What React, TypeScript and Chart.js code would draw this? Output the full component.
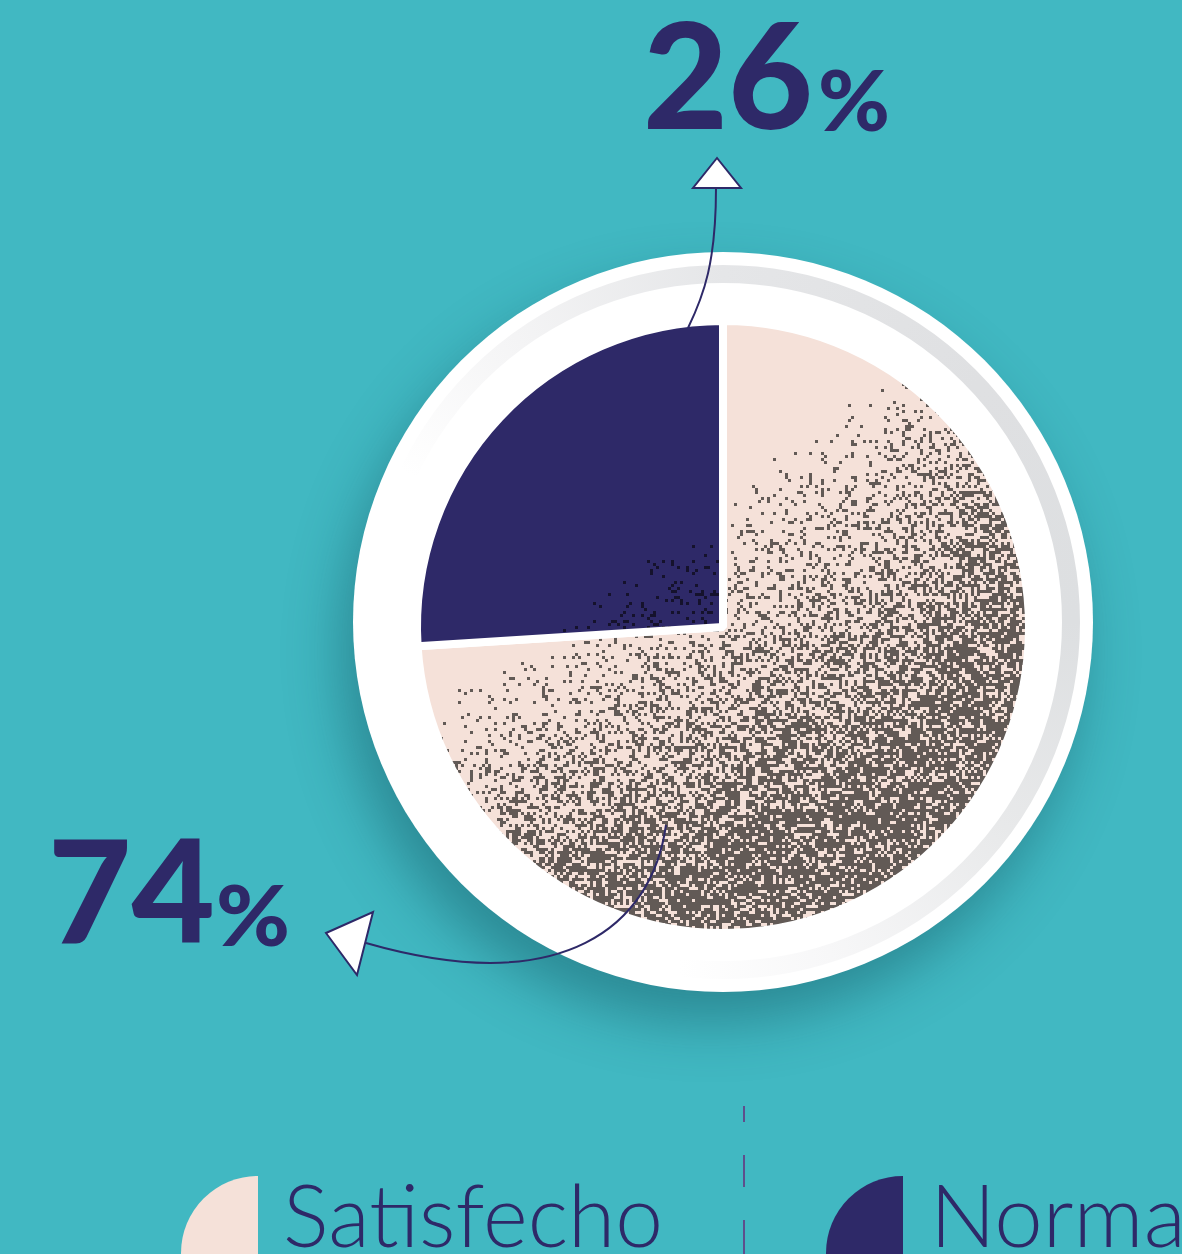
import React, { useEffect, useRef } from "react";
import { Chart, registerables } from "chart.js";

Chart.register(...registerables);

// ---- data ----
const categories: string[] = ["Satisfecho", "Normal"];
const values: number[] = [74, 26];
const sliceColors: string[] = ["#f5e1d9", "#2e2968"];
const grainColors: string[] = ["#625a56", "#15122c"];

const TEAL = "#41b8c2";
const NAVY = "#2e2968";
const W = 1182;
const H = 1254;

function hash(i: number, j: number) {
  const s = Math.sin(i * 127.1 + j * 311.7) * 43758.5453;
  return s - Math.floor(s);
}

const patternCache: Record<string, CanvasPattern | string> = {};

function grainPattern(chart: any, index: number) {
  const area = chart.chartArea;
  if (!area) return sliceColors[index];
  const key = index + ":" + area.left + ":" + area.top + ":" + area.width;
  if (patternCache[key]) return patternCache[key];
  const cx = (area.left + area.right) / 2;
  const cy = (area.top + area.bottom) / 2;
  const R = Math.min(area.width, area.height) / 2;
  const c = document.createElement("canvas");
  c.width = chart.width;
  c.height = chart.height;
  const g = c.getContext("2d")!;
  g.fillStyle = sliceColors[index];
  g.fillRect(0, 0, c.width, c.height);
  g.fillStyle = grainColors[index];
  const cell = 3;
  for (let y = Math.floor(cy - R); y < cy + R; y += cell) {
    for (let x = Math.floor(cx - R); x < cx + R; x += cell) {
      const dx = x - cx, dy = y - cy;
      const p = (0.6 * dx + 0.8 * dy) / R;
      const r = Math.sqrt(dx * dx + dy * dy) / R;
      const rim = 0.3 * Math.max(0, r - 0.55) * Math.min(1, Math.max(0, (p + 0.25) / 0.4));
      const d = Math.min(0.72, Math.max(0, 0.68 * (p + 0.36) + rim));
      if (hash(x, y) < d) g.fillRect(x, y, cell, cell);
    }
  }
  const pat = chart.ctx.createPattern(c, "no-repeat");
  patternCache[key] = pat || sliceColors[index];
  return patternCache[key];
}

const platePlugin = {
  id: "plate",
  beforeDraw(chart: any) {
    const ctx = chart.ctx as CanvasRenderingContext2D;
    const px = 723, py = 622;
    ctx.save();
    ctx.fillStyle = TEAL;
    ctx.fillRect(0, 0, chart.width, chart.height);
    ctx.shadowColor = "rgba(15,75,85,0.42)";
    ctx.shadowBlur = 55;
    ctx.shadowOffsetY = 30;
    ctx.shadowOffsetX = -12;
    ctx.beginPath();
    ctx.arc(px, py, 370, 0, Math.PI * 2);
    ctx.fillStyle = "#ffffff";
    ctx.fill();
    ctx.restore();

    ctx.save();
    const grad = (ctx as any).createConicGradient(0, px, py);
    grad.addColorStop(0, "#dddfe1");
    grad.addColorStop(0.1, "#e8e9ea");
    grad.addColorStop(0.2, "#f7f7f8");
    grad.addColorStop(0.27, "#ffffff");
    grad.addColorStop(0.57, "#ffffff");
    grad.addColorStop(0.65, "#f4f4f5");
    grad.addColorStop(0.75, "#e5e6e8");
    grad.addColorStop(0.88, "#dfe0e2");
    grad.addColorStop(1, "#dddfe1");
    ctx.strokeStyle = grad;
    ctx.lineWidth = 18;
    ctx.beginPath();
    ctx.arc(px, py, 348, 0, Math.PI * 2);
    ctx.stroke();
    ctx.restore();
  },
};

export default function App() {
  const ref = useRef<HTMLCanvasElement>(null);

  useEffect(() => {
    document.body.style.margin = "0";
    const canvas = ref.current!;
    const chart = new Chart(canvas, {
      type: "pie",
      data: {
        labels: categories,
        datasets: [
          {
            data: values,
            backgroundColor: (c: any) =>
              c.dataIndex === undefined ? sliceColors[0] : grainPattern(c.chart, c.dataIndex),
            borderColor: "#ffffff",
            borderWidth: 8,
          },
        ],
      },
      options: {
        animation: false,
        responsive: false,
        events: [],
        layout: { padding: { left: 413, top: 317, right: 149, bottom: 317 } },
        plugins: {
          legend: { display: false },
          tooltip: { enabled: false },
        },
      },
      plugins: [platePlugin],
    } as any);
    return () => chart.destroy();
  }, []);

  const big = "Lato, 'DejaVu Sans', sans-serif";

  return (
    <div
      style={{
        position: "absolute",
        left: 0,
        top: 0,
        width: W,
        height: H,
        overflow: "hidden",
        background: TEAL,
      }}
    >
      <canvas
        ref={ref}
        width={W}
        height={H}
        style={{ position: "absolute", left: 0, top: 0, width: W, height: H }}
      />
      <svg
        width={W}
        height={H}
        viewBox={`0 0 ${W} ${H}`}
        style={{ position: "absolute", left: 0, top: 0 }}
      >
        {/* arrows */}
        <path d="M688,328 C704,295 716,262 716,188" fill="none" stroke={NAVY} strokeWidth={2} />
        <polygon points="717,158 693,188 741,188" fill="#ffffff" stroke={NAVY} strokeWidth={2} />
        <path d="M666,825 C652,925 565,1000 366,943" fill="none" stroke={NAVY} strokeWidth={2} />
        <polygon points="326,933 373,912 357,975" fill="#ffffff" stroke={NAVY} strokeWidth={2} />

        {/* value labels */}
        <text x={643} y={129} fill={NAVY} fontFamily={big} fontWeight={900} fontSize={147} textLength={170} lengthAdjust="spacingAndGlyphs">
          {String(values[1])}
        </text>
        <text x={818} y={131} fill={NAVY} fontFamily={big} fontWeight={900} fontSize={84} textLength={72} lengthAdjust="spacingAndGlyphs">
          %
        </text>
        <text x={48} y={943} fill={NAVY} fontFamily={big} fontWeight={900} fontSize={143} textLength={167} lengthAdjust="spacingAndGlyphs">
          {String(values[0])}
        </text>
        <text x={216} y={946} fill={NAVY} fontFamily={big} fontWeight={900} fontSize={84} textLength={74} lengthAdjust="spacingAndGlyphs">
          %
        </text>

        {/* legend */}
        <line x1={744} y1={1106} x2={744} y2={1254} stroke="#5e4f8c" strokeWidth={2} strokeDasharray="16 33 32 33 34" />
        <path d="M258,1176 A77,77 0 0 0 181,1253 L181,1260 L258,1260 Z" fill={sliceColors[0]} />
        <text x={283} y={1247} fill={NAVY} fontFamily="Lato, sans-serif" fontWeight={300} fontSize={86} textLength={380} lengthAdjust="spacingAndGlyphs">
          {categories[0]}
        </text>
        <path d="M903,1176 A77,77 0 0 0 826,1253 L826,1260 L903,1260 Z" fill={sliceColors[1]} />
        <text x={930} y={1247} fill={NAVY} fontFamily="Lato, sans-serif" fontWeight={300} fontSize={86} textLength={275} lengthAdjust="spacingAndGlyphs">
          {categories[1]}
        </text>
      </svg>
    </div>
  );
}
